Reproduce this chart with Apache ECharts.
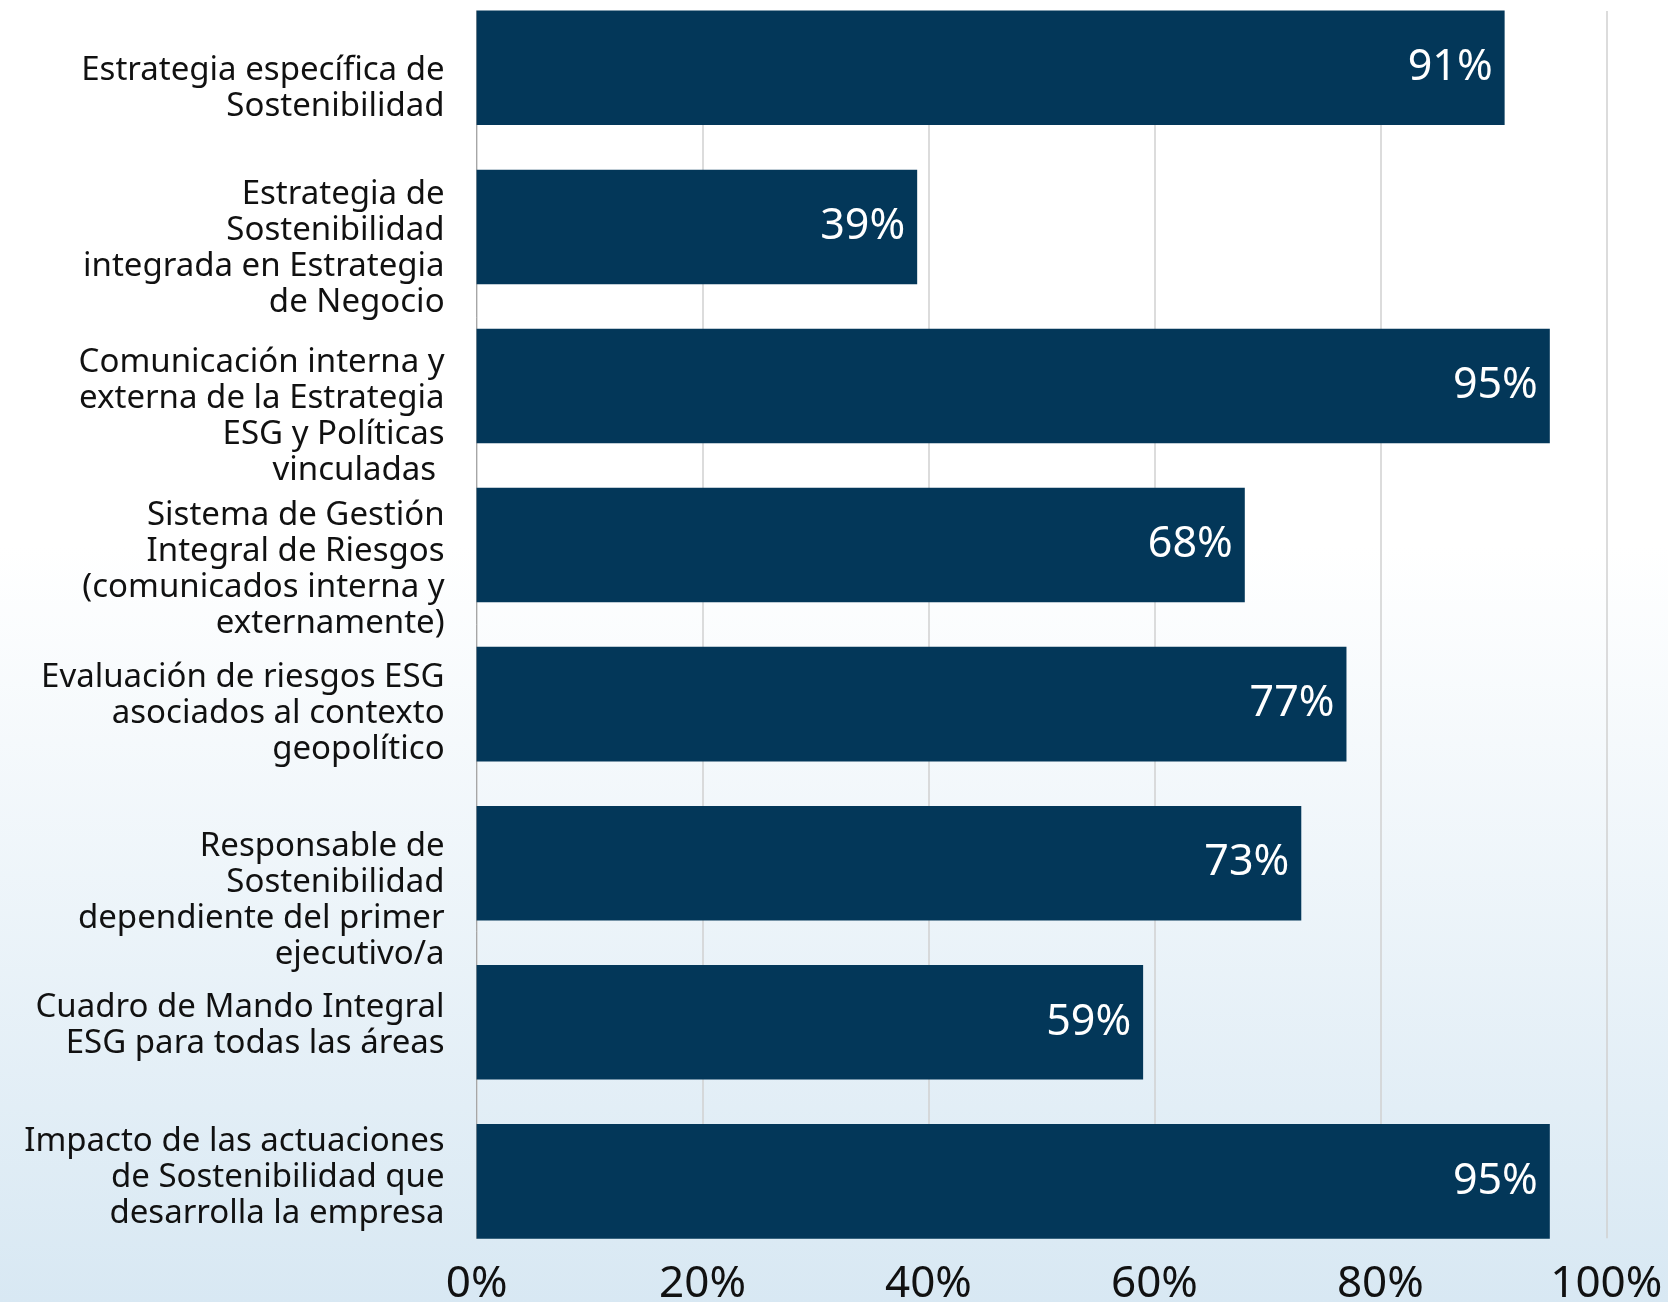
<!DOCTYPE html>
<html>
<head>
<meta charset="utf-8">
<title>Estrategia ESG</title>
<script src="https://cdn.jsdelivr.net/npm/echarts@6/dist/echarts.min.js"></script>
<style>
  html, body { margin: 0; padding: 0; }
  #chart { width: 1668px; height: 1302px; }
</style>
</head>
<body>
<div id="chart"></div>
<script>
// Categories, top to bottom
const categories = [
  'Estrategia específica de\nSostenibilidad',
  'Estrategia de\nSostenibilidad\nintegrada en Estrategia\nde Negocio',
  'Comunicación interna y\nexterna de la Estrategia\nESG y Políticas\nvinculadas ',
  'Sistema de Gestión\nIntegral de Riesgos\n(comunicados interna y\nexternamente)',
  'Evaluación de riesgos ESG\nasociados al contexto\ngeopolítico',
  'Responsable de\nSostenibilidad\ndependiente del primer\nejecutivo/a',
  'Cuadro de Mando Integral\nESG para todas las áreas',
  'Impacto de las actuaciones\nde Sostenibilidad que\ndesarrolla la empresa'
];

// Share of companies (%)
const values = [91, 39, 95, 68, 77, 73, 59, 95];

// Value axis ticks (%)
const axisTicks = [0, 20, 40, 60, 80, 100];

// Vertical nudge of each category label relative to its bar centre (px)
const labelNudge = [20.5, 21.5, 30.5, 24.5, 9.5, 37.5, 3.5, -3.5];

const FONT = '"Noto Sans", sans-serif';
const LINE_H = 36.2;

// rich styles: one text style plus a spacer per label
const rich = { t: { fontSize: 33, lineHeight: LINE_H, fontFamily: FONT, color: '#111', align: 'right' } };
labelNudge.forEach((n, i) => {
  rich['g' + i] = { fontSize: 2, lineHeight: Math.abs(n) * 2, align: 'right' };
});

const chart = echarts.init(document.getElementById('chart'), null, { renderer: 'canvas' });

const PLOT_LEFT = 476.6;
const PLOT_RIGHT = 61.7;

chart.setOption({
  backgroundColor: new echarts.graphic.LinearGradient(0, 0, 0, 1, [
    { offset: 0, color: '#ffffff' },
    { offset: 0.42, color: '#ffffff' },
    { offset: 1, color: '#d8e8f3' }
  ]),
  animation: false,
  textStyle: { fontFamily: FONT },
  grid: [
    // bars (band layout runs slightly past the top edge)
    { left: PLOT_LEFT, right: PLOT_RIGHT, top: -11.7, height: 1272.6, containLabel: false, outerBoundsMode: 'none' },
    // gridlines and ticks
    { left: PLOT_LEFT, right: PLOT_RIGHT, top: 11, bottom: 63.7, containLabel: false, outerBoundsMode: 'none' }
  ],
  xAxis: [
    {
      gridIndex: 0, type: 'value', min: 0, max: 100, interval: 20,
      axisLine: { show: false }, axisTick: { show: false },
      axisLabel: { show: false }, splitLine: { show: false }
    },
    {
      gridIndex: 1, type: 'value', min: axisTicks[0], max: axisTicks[axisTicks.length - 1], interval: 20,
      axisLine: { show: false }, axisTick: { show: false },
      splitLine: { show: true, lineStyle: { color: '#d0d0d0', width: 1.5 } },
      axisLabel: {
        formatter: v => v + '%',
        fontSize: 44, color: '#111', fontFamily: FONT, margin: 24
      }
    }
  ],
  yAxis: [
    {
      gridIndex: 0, type: 'category', inverse: true, data: categories,
      axisLine: { show: false }, axisTick: { show: false },
      axisLabel: {
        margin: 32,
        hideOverlap: false,
        interval: 0,
        formatter: (val, idx) => {
          const n = labelNudge[idx];
          const body = val.split('\n').map(l => '{t|' + l + '}').join('\n');
          if (n > 0) return '{g' + idx + '| }\n' + body;
          if (n < 0) return body + '\n{g' + idx + '| }';
          return body;
        },
        rich: rich
      }
    },
    {
      gridIndex: 1, type: 'value', min: 0, max: 1,
      axisLine: { show: true, lineStyle: { color: '#a6a6a6', width: 1 } },
      axisTick: { show: false }, axisLabel: { show: false }, splitLine: { show: false }
    }
  ],
  series: [{
    type: 'bar',
    xAxisIndex: 0, yAxisIndex: 0,
    data: values,
    barCategoryGap: '28%',
    itemStyle: { color: '#033759' },
    label: {
      show: true,
      position: 'insideRight',
      distance: 12,
      formatter: p => p.value + '%',
      fontSize: 43,
      color: '#ffffff',
      fontFamily: FONT
    }
  }]
});
</script>
</body>
</html>
